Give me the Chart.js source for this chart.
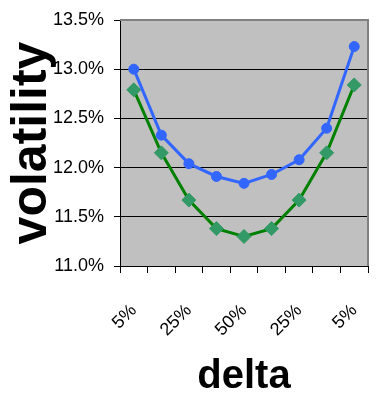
<!DOCTYPE html>
<html>
<head>
<meta charset="utf-8">
<script src="https://cdn.jsdelivr.net/npm/chart.js@4/dist/chart.umd.min.js"></script>
<style>
  html, body { margin: 0; padding: 0; background: #ffffff; }
  canvas { display: block; }
</style>
</head>
<body>
<canvas id="smile" width="376" height="393"></canvas>
<script>
// Option deltas along the smile (only every other one is labelled)
const deltaLabels = ["5%", "", "25%", "", "50%", "", "25%", "", "5%"];
// Implied volatility, percent
const upperVol = [13.00, 12.33, 12.04, 11.91, 11.84, 11.93, 12.08, 12.40, 13.23];
const lowerVol = [12.79, 12.15, 11.67, 11.38, 11.30, 11.38, 11.67, 12.15, 12.84];
// Value axis range and step, percent
const volMin = 11.0;
const volMax = 13.5;
const volStep = 0.5;

const sans = "'Liberation Sans', Arial, sans-serif";

// Grey plot background plus the grey frame on its top and right edges
const plotFrame = {
  id: 'plotFrame',
  beforeDraw(chart) {
    const { ctx, chartArea: a } = chart;
    ctx.save();
    ctx.fillStyle = '#c0c0c0';
    ctx.fillRect(a.left, a.top, a.right - a.left, a.bottom - a.top);
    ctx.restore();
  },
  afterDraw(chart) {
    const { ctx, chartArea: a } = chart;
    ctx.save();
    ctx.strokeStyle = '#808080';
    ctx.lineWidth = 2;
    ctx.beginPath();
    ctx.moveTo(a.left, a.top);
    ctx.lineTo(a.right, a.top);
    ctx.lineTo(a.right, a.bottom);
    ctx.stroke();
    ctx.restore();
  }
};

new Chart(document.getElementById('smile'), {
  type: 'line',
  data: {
    labels: deltaLabels,
    datasets: [
      {
        data: upperVol,
        borderColor: '#3366ff',
        backgroundColor: '#3366ff',
        borderWidth: 3,
        pointStyle: 'circle',
        pointRadius: 5,
        pointBackgroundColor: '#3366ff',
        pointBorderColor: '#3366ff',
        pointBorderWidth: 1,
        tension: 0,
        fill: false
      },
      {
        data: lowerVol,
        borderColor: '#008000',
        backgroundColor: '#339966',
        borderWidth: 3,
        pointStyle: 'rectRot',
        pointRadius: 7,
        pointBackgroundColor: '#339966',
        pointBorderColor: '#339966',
        pointBorderWidth: 1,
        tension: 0,
        fill: false
      }
    ]
  },
  options: {
    responsive: false,
    animation: false,
    layout: { padding: { top: 20, right: 1, left: 0, bottom: 0 } },
    plugins: {
      legend: { display: false },
      tooltip: { enabled: false }
    },
    scales: {
      x: {
        type: 'category',
        offset: true,
        grid: {
          offset: true,
          drawOnChartArea: false,
          drawTicks: true,
          tickLength: 7,
          color: '#000000',
          lineWidth: 1
        },
        border: { color: '#000000', width: 1 },
        ticks: {
          autoSkip: false,
          maxRotation: 45,
          minRotation: 45,
          padding: 27,
          color: '#000000',
          font: { family: sans, size: 18 }
        },
        title: {
          display: true,
          text: 'delta',
          color: '#000000',
          padding: 0,
          font: { family: sans, size: 40, weight: 'bold', lineHeight: 0.8 }
        },
        afterFit(scale) {
          scale.height = 127;
          scale.paddingLeft = 0;
          scale.paddingRight = 0;
        }
      },
      y: {
        min: volMin,
        max: volMax,
        grid: {
          color: '#000000',
          lineWidth: 1,
          tickLength: 6
        },
        border: { color: '#000000', width: 1 },
        ticks: {
          stepSize: volStep,
          padding: 10,
          color: '#000000',
          font: { family: sans, size: 18 },
          callback: v => v.toFixed(1) + '%'
        },
        title: {
          display: true,
          text: 'volatility',
          color: '#000000',
          padding: 2,
          font: { family: sans, size: 50, weight: 'bold', lineHeight: 1.2 }
        },
        afterFit(scale) {
          scale.width = 120;
          scale.paddingTop = 0;
          scale.paddingBottom = 0;
        }
      }
    }
  },
  plugins: [plotFrame]
});
</script>
</body>
</html>
